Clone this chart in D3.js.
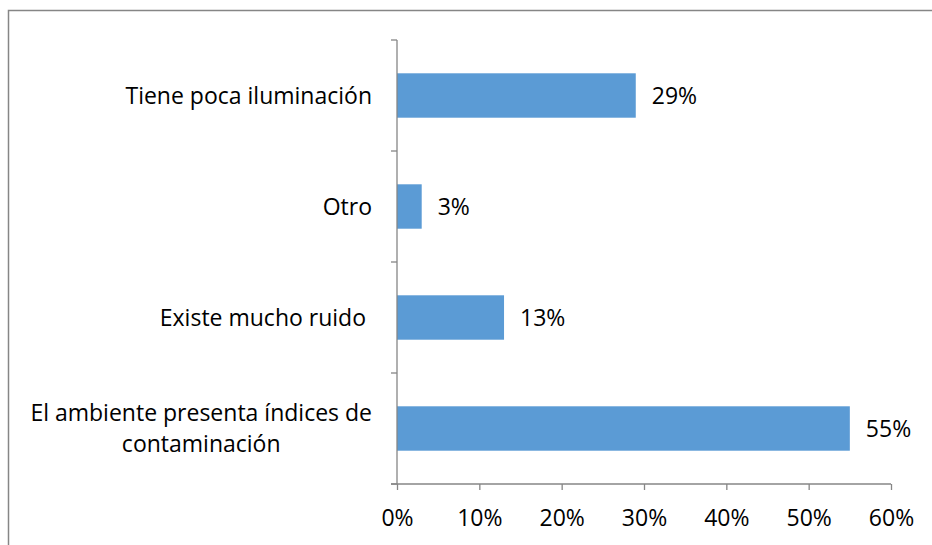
<!DOCTYPE html>
<html>
<head>
<meta charset="utf-8">
<style>
  body { margin: 0; background: #fff; }
  text { font-family: "Open Sans", sans-serif; fill: #000; }
</style>
</head>
<body>
<div id="chart"></div>
<script src="https://d3js.org/d3.v7.min.js"></script>
<script>
// data, top to bottom
var categories = ["Tiene poca iluminación", "Otro", "Existe mucho ruido ", "El ambiente presenta índices de\ncontaminación"];
var values = [0.29, 0.03, 0.13, 0.55];
var xTicks = [0, 0.1, 0.2, 0.3, 0.4, 0.5, 0.6];

var W = 932, H = 545;
var barColor = "#5b9bd5";
var axisColor = "#868686";
var fontSize = 23;

var svg = d3.select("#chart").append("svg").attr("width", W).attr("height", H);

// chart border (only top and left are inside the picture)
svg.append("rect").attr("x", 8.5).attr("y", 10.5).attr("width", W).attr("height", H)
  .attr("fill", "none").attr("stroke", axisColor).attr("stroke-width", 1.5);

var x = d3.scaleLinear().domain([0, 0.6]).range([397, 891]);
var y = d3.scaleBand().domain(categories).range([40, 484]).paddingInner(0.6).paddingOuter(0.3);

// bars
svg.selectAll(".bar").data(categories).enter().append("rect")
  .attr("class", "bar")
  .attr("x", x(0))
  .attr("y", function(d){ return y(d); })
  .attr("width", function(d, i){ return x(values[i]) - x(0); })
  .attr("height", y.bandwidth())
  .attr("fill", barColor);

// value labels
svg.selectAll(".val").data(categories).enter().append("text")
  .attr("class", "val")
  .attr("x", function(d, i){ return x(values[i]) + 16; })
  .attr("y", function(d){ return y(d) + y.bandwidth() / 2; })
  .attr("dy", "0.35em")
  .style("font-size", fontSize + "px")
  .text(function(d, i){ return Math.round(values[i] * 100) + "%"; });

// y axis line and ticks at band edges
var step = y.step();
var top0 = y.range()[0];
var gy = svg.append("g");
gy.append("line").attr("x1", x(0)).attr("x2", x(0)).attr("y1", top0).attr("y2", 484)
  .attr("stroke", axisColor).attr("stroke-width", 1.3);
d3.range(categories.length + 1).forEach(function(i){
  gy.append("line").attr("x1", x(0) - 6).attr("x2", x(0))
    .attr("y1", top0 + i * step).attr("y2", top0 + i * step)
    .attr("stroke", axisColor).attr("stroke-width", 1.3);
});

// category labels (multi-line ones centered in their block)
var labelRight = 372;
categories.forEach(function(c){
  var lines = c.split("\n");
  var cy = y(c) + y.bandwidth() / 2;
  var lh = 31;
  var g = svg.append("g");
  var texts = lines.map(function(l, j){
    return g.append("text")
      .attr("y", cy + (j - (lines.length - 1) / 2) * lh)
      .attr("dy", "0.35em")
      .style("font-size", fontSize + "px")
      .style("white-space", "pre")
      .text(l);
  });
  var maxW = d3.max(texts, function(t){ return t.node().getComputedTextLength(); });
  texts.forEach(function(t){
    t.attr("x", labelRight - maxW / 2).attr("text-anchor", "middle");
  });
});

// x axis
var gx = svg.append("g").attr("transform", "translate(0,484)")
  .call(d3.axisBottom(x).tickValues(xTicks).tickFormat(d3.format(".0%")).tickSize(6).tickSizeOuter(0));
gx.select(".domain").attr("stroke", axisColor).attr("stroke-width", 1.3).attr("d", "M" + (x(0) - 6) + ",0H" + x(0.6));
gx.selectAll(".tick line").attr("stroke", axisColor).attr("stroke-width", 1.3);
gx.selectAll(".tick text").attr("y", 34).attr("dy", "0.35em")
  .style("font-size", fontSize + "px").style("font-family", "'Open Sans', sans-serif").attr("fill", "#000");
</script>
</body>
</html>
